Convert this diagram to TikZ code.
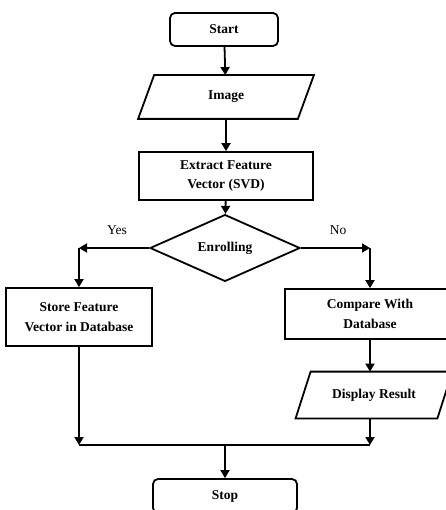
\documentclass[tikz,border=0pt]{standalone}
\usepackage{fontspec}
\setmainfont{Liberation Serif}
\usetikzlibrary{shapes.geometric,arrows.meta}

\tikzset{
  term/.style={draw, rounded corners=5pt, minimum width=#1, minimum height=33pt},
  procbox/.style={draw, align=center},
  iobox/.style={inner sep=0pt, align=center},
  decide/.style={draw, diamond, inner sep=0pt, minimum width=150pt, minimum height=51pt}
}

\begin{document}
\begin{tikzpicture}[x=1pt, y=-1pt, line width=1.8pt, line join=miter,
  >={Triangle[length=8pt,width=9pt]},
  font=\bfseries\fontsize{13.5}{19.5}\selectfont]
  \useasboundingbox (0,0) rectangle (445,510);

  % boxes
  \node[term=108pt] (start) at (224,29.5) {Start};
  \node[iobox, minimum width=158pt, minimum height=42pt] (image) at (226,97) {Image};
  \node[procbox, minimum width=174pt, minimum height=48pt] (extract) at (226,176) {Extract Feature\\Vector (SVD)};
  \node[decide] (enroll) at (225,248) {Enrolling};
  \node[procbox, minimum width=146pt, minimum height=58pt] (store) at (79,317) {Store Feature\\Vector in Database};
  \node[procbox, minimum width=170pt, minimum height=50pt] (compare) at (370,314) {Compare With\\Database};
  \node[iobox, minimum width=140pt, minimum height=45pt] (display) at (374,395) {Display Result};
  \node[term=144pt, minimum height=34pt] (stop) at (225,496) {Stop};

  % slanted input/output outlines
  \draw ([xshift=8pt]image.north west) -- ([xshift=8pt]image.north east)
    -- ([xshift=-8pt]image.south east) -- ([xshift=-8pt]image.south west) -- cycle;
  \draw ([xshift=7.5pt]display.north west) -- ([xshift=7.5pt]display.north east)
    -- ([xshift=-7.5pt]display.south east) -- ([xshift=-7.5pt]display.south west) -- cycle;

  % labels
  \node[font=\fontsize{13.5}{16}\selectfont] (yes) at (117,230) {Yes};
  \node[font=\fontsize{13.5}{16}\selectfont] (no) at (338,230) {No};

  \coordinate (yturn) at (enroll.west -| store);
  \coordinate (nturn) at (enroll.east -| compare);
  \coordinate (mleft) at (store |- 445,445);
  \coordinate (mright) at (compare |- 445,445);
  \coordinate (mmid) at (stop |- 445,445);

  % connectors
  \draw[->] (start) -- (image);
  \draw[->] (image) -- (extract);
  \draw[->] (extract) -- (enroll);
  \draw[->] (enroll.west) -- (yturn);
  \draw[->] (yturn) -- (store);
  \draw[->] (enroll.east) -- (nturn);
  \draw[->] (nturn) -- (compare);
  \draw[->] (compare) -- (compare |- display.north);
  \draw[->] (store) -- (mleft);
  \draw[->] (compare |- display.south) -- (mright);
  \draw (mleft) -- (mright);
  \draw[->] (mmid) -- (stop);
\end{tikzpicture}
\end{document}
